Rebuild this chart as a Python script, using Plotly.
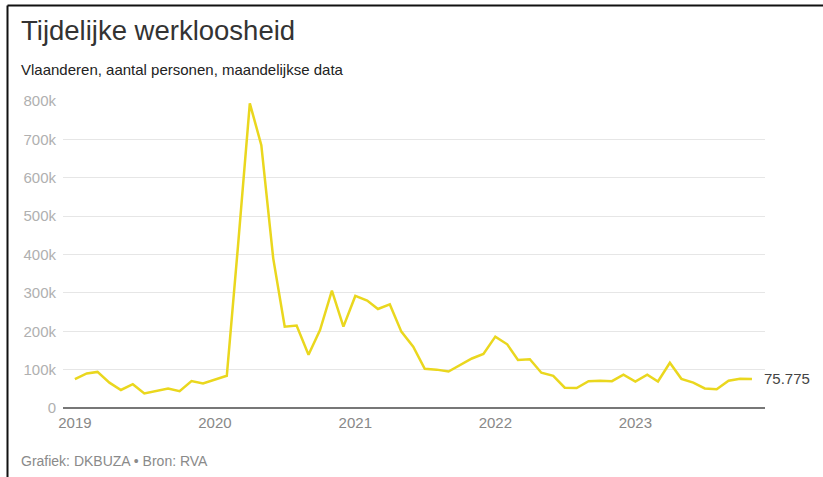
import plotly.graph_objects as go
import pandas as pd

# ---- data ----
start_month = "2019-01-01"
values = [
    75000, 90000, 94000, 66000, 47000, 62000, 38000, 45000, 51000, 44000, 70000, 64000,   # 2019
    73000, 84000, 420000, 794000, 685000, 390000, 212000, 215000, 139000, 203000, 306000, 212000,  # 2020
    292000, 280000, 258000, 270000, 199000, 160000, 102000, 100000, 95000, 112000, 129000, 141000,  # 2021
    186000, 166000, 125000, 127000, 92000, 84000, 53000, 52000, 70000, 71000, 70000, 87000,  # 2022
    69000, 87000, 69000, 118000, 76000, 66000, 51000, 49000, 71000, 76000, 75775,  # 2023
]
months = pd.date_range(start_month, periods=len(values), freq="MS")

y_tickvals = [0, 100000, 200000, 300000, 400000, 500000, 600000, 700000, 800000]
y_ticktext = ["0", "100k", "200k", "300k", "400k", "500k", "600k", "700k", "800k"]
x_tickvals = ["2019-01-01", "2020-01-01", "2021-01-01", "2022-01-01", "2023-01-01"]
x_ticktext = ["2019", "2020", "2021", "2022", "2023"]

title = "Tijdelijke werkloosheid"
subtitle = "Vlaanderen, aantal personen, maandelijkse data"
footer = "Grafiek: DKBUZA • Bron: RVA"

# ---- layout geometry (pixels) ----
W, H = 823, 477
L, R, T, B = 63, 58, 101, 69
PW, PH = W - L - R, H - T - B

def px(x):
    return (x - L) / PW

def py(y):
    return (H - B - y) / PH

FONT = "Liberation Sans, Arial, Helvetica, sans-serif"
LINE_COLOR = "#EAD71E"

fig = go.Figure()
fig.add_trace(go.Scatter(
    x=months, y=values, mode="lines",
    line=dict(color=LINE_COLOR, width=2.5),
    hoverinfo="x+y", showlegend=False,
))

last_label = f"{values[-1]:,}".replace(",", ".")

annotations = [
    dict(text=title, x=px(19), y=py(31), xref="paper", yref="paper",
         xanchor="left", yanchor="middle", showarrow=False,
         font=dict(size=27.5, color="#333333", family=FONT)),
    dict(text=subtitle, x=px(19), y=py(70), xref="paper", yref="paper",
         xanchor="left", yanchor="middle", showarrow=False,
         font=dict(size=15, color="#222222", family=FONT)),
    dict(text=footer, x=px(19), y=py(461), xref="paper", yref="paper",
         xanchor="left", yanchor="middle", showarrow=False,
         font=dict(size=14, color="#8a8a8a", family=FONT)),
    dict(text=last_label, x=months[-1], y=values[-1], xref="x", yref="y",
         xanchor="left", yanchor="middle", showarrow=False, xshift=10,
         font=dict(size=15, color="#444444", family=FONT)),
]

shapes = [
    # frame: top and left edges
    dict(type="line", xref="paper", yref="paper",
         x0=px(7.5), x1=px(W + 5), y0=py(5.5), y1=py(5.5),
         line=dict(color="#111111", width=2)),
    dict(type="line", xref="paper", yref="paper",
         x0=px(7.5), x1=px(7.5), y0=py(5.5), y1=py(H + 5),
         line=dict(color="#111111", width=2)),
]

fig.update_layout(
    width=W, height=H,
    margin=dict(l=L, r=R, t=T, b=B, pad=0),
    paper_bgcolor="white", plot_bgcolor="white",
    font=dict(family=FONT),
    annotations=annotations,
    shapes=shapes,
    showlegend=False,
)

fig.update_xaxes(
    range=["2018-12-01", "2023-12-05"],
    tickvals=x_tickvals, ticktext=x_ticktext,
    showgrid=False, zeroline=False,
    showline=False, ticks="",
    tickfont=dict(size=15, color="#888888", family=FONT),
    ticklabelstandoff=4,
)
fig.update_yaxes(
    range=[0, 800000],
    tickvals=y_tickvals, ticktext=y_ticktext,
    showgrid=True, gridcolor="#e6e6e6", gridwidth=1,
    zeroline=True, zerolinecolor="#777777", zerolinewidth=1.5,
    showline=False, ticks="",
    tickfont=dict(size=15, color="#b0b0b0", family=FONT),
    ticklabelstandoff=6,
)

fig.write_html(
    "out.html",
    config={"displayModeBar": False},
    post_script="document.body.style.margin='0';document.body.style.overflow='hidden';",
)
